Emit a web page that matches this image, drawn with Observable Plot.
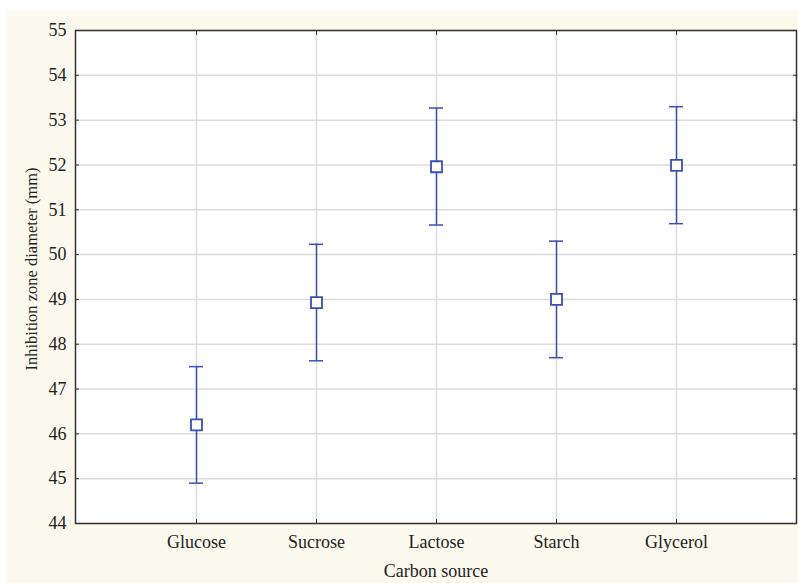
<!DOCTYPE html>
<html>
<head>
<meta charset="utf-8">
<script src="https://cdn.jsdelivr.net/npm/d3@7"></script>
<script src="https://cdn.jsdelivr.net/npm/@observablehq/plot@0.6"></script>
<style>
  html, body { margin: 0; padding: 0; background: #ffffff; }
  #wrap { position: relative; width: 798px; height: 583px; overflow: hidden; }
  #cream { position: absolute; left: 7px; top: 10px; right: 0; bottom: 0; background: #fcf9ef; }
  #chart { position: absolute; left: 0; top: 0; }
</style>
</head>
<body>
<div id="wrap"><div id="cream"></div><div id="chart"></div></div>
<script>
const categories = ["Glucose", "Sucrose", "Lactose", "Starch", "Glycerol"];
const means = [46.2, 48.93, 51.96, 49.0, 51.99];
const lower = [44.9, 47.63, 50.66, 47.7, 50.69];
const upper = [47.5, 50.23, 53.27, 50.3, 53.30];
const yTicks = [44, 45, 46, 47, 48, 49, 50, 51, 52, 53, 54, 55];
const xTitle = "Carbon source";
const yTitle = "Inhibition zone diameter (mm)";

const data = categories.map((name, i) => ({name, mean: means[i], lo: lower[i], hi: upper[i]}));
const blue = "#3c4fb4";
const font = "'Liberation Serif', 'Times New Roman', serif";

const chart = Plot.plot({
  width: 798,
  height: 583,
  marginLeft: 75,
  marginTop: 30,
  marginRight: 2,
  marginBottom: 60,
  style: {background: "transparent", fontFamily: font, fontSize: "18px", color: "#222"},
  x: {type: "point", domain: categories, padding: 1},
  y: {domain: [44, 55]},
  marks: [
    Plot.frame({fill: "white", stroke: "none"}),
    Plot.gridY(yTicks, {stroke: "#dcdcdc", strokeOpacity: 1, strokeWidth: 1.5}),
    Plot.gridX(categories, {stroke: "#dcdcdc", strokeOpacity: 1, strokeWidth: 1.5}),
    Plot.axisY(yTicks, {tickSize: 0, tickPadding: 9, fontSize: 18, label: null}),
    Plot.axisY(yTicks, {tickSize: 4, dx: 4, tickFormat: () => "", label: null, stroke: "#333"}),
    Plot.axisY(yTicks, {anchor: "right", tickSize: 4, dx: -4, tickFormat: () => "", label: null, stroke: "#333"}),
    Plot.axisX(categories, {tickSize: 0, tickPadding: 12, fontSize: 18, label: null}),
    Plot.axisX(categories, {tickSize: 4, dy: -4, tickFormat: () => "", label: null, stroke: "#333"}),
    Plot.axisX(categories, {anchor: "top", tickSize: 4, dy: 4, tickFormat: () => "", label: null, stroke: "#333"}),
    Plot.text([xTitle], {text: d => d, frameAnchor: "bottom", lineAnchor: "middle", dy: 48, fontSize: 18, fill: "#222"}),
    Plot.text([yTitle], {text: d => d, frameAnchor: "left", rotate: -90, textAnchor: "middle", dx: -44, dy: -8, fontSize: 16.5, fill: "#222"}),
    Plot.ruleX(data, {x: "name", y1: "lo", y2: "hi", stroke: blue, strokeWidth: 1.5}),
    Plot.ruleY(data, {y: "hi", x1: "name", x2: "name", insetLeft: -7, insetRight: -7, stroke: blue, strokeWidth: 1.5}),
    Plot.ruleY(data, {y: "lo", x1: "name", x2: "name", insetLeft: -7, insetRight: -7, stroke: blue, strokeWidth: 1.5}),
    Plot.dot(data, {x: "name", y: "mean", symbol: "square", r: 6.2, fill: "white", stroke: blue, strokeWidth: 1.8}),
    Plot.frame({stroke: "#333", strokeWidth: 1.5})
  ]
});
document.getElementById("chart").appendChild(chart);
</script>
</body>
</html>
